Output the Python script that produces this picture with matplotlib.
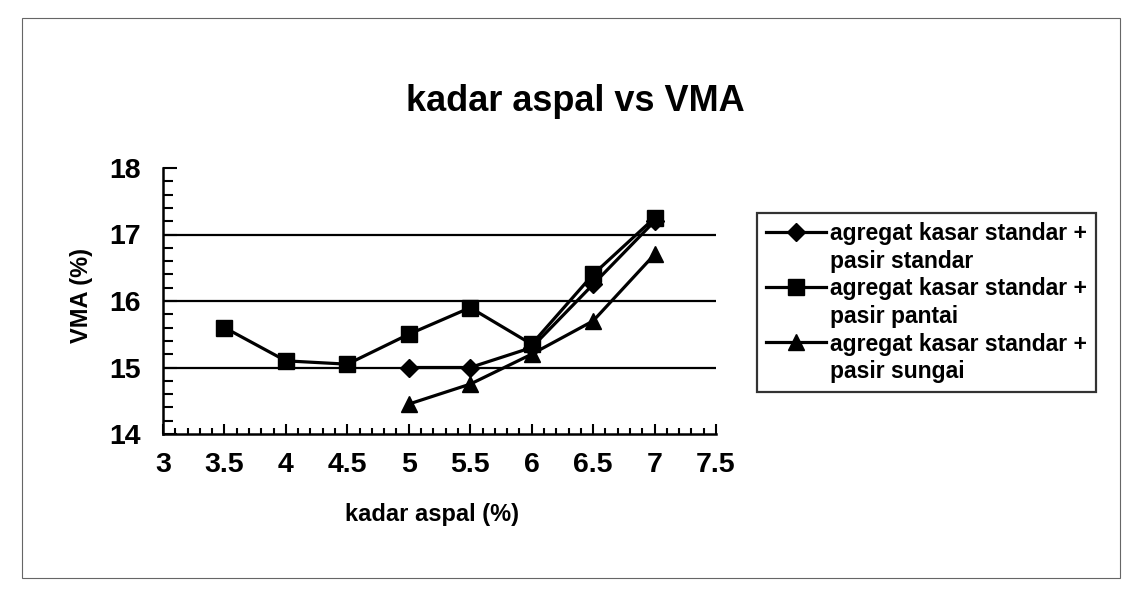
# kadar aspal vs VMA - three sand mixes
import matplotlib
matplotlib.use("Agg")
import matplotlib.pyplot as plt
from matplotlib.lines import Line2D
from matplotlib.patches import Rectangle
from matplotlib.ticker import MultipleLocator

plt.rcParams['font.family'] = ['Liberation Sans', 'DejaVu Sans']
plt.rcParams['font.weight'] = 'bold'

# data
x_pantai = [3.5, 4, 4.5, 5, 5.5, 6, 6.5, 7]
vma_pantai = [15.6, 15.1, 15.05, 15.5, 15.9, 15.35, 16.4, 17.25]
x_std = [5, 5.5, 6, 6.5, 7]
vma_standar = [15.0, 15.0, 15.3, 16.25, 17.2]
vma_sungai = [14.45, 14.75, 15.2, 15.7, 16.7]

labels = ["agregat kasar standar +\npasir standar",
          "agregat kasar standar +\npasir pantai",
          "agregat kasar standar +\npasir sungai"]
grid_levels = [15, 16, 17]

fig = plt.figure(figsize=(11.31, 6.05), dpi=100)
ax = fig.add_axes([163/1131, 1-434/605, 553/1131, 266/605])

for g in grid_levels:
    ax.axhline(g, color='black', lw=1.6, zorder=1)

lw = 2.3
h1, = ax.plot(x_std, vma_standar, color='black', lw=lw, marker='D', ms=9.5, zorder=3)
h2, = ax.plot(x_pantai, vma_pantai, color='black', lw=lw, marker='s', ms=11, zorder=3)
h3, = ax.plot(x_std, vma_sungai, color='black', lw=lw, marker='^', ms=12, zorder=3)

ax.set_xlim(3, 7.5)
ax.set_ylim(14, 18)
ax.xaxis.set_major_locator(MultipleLocator(0.5))
ax.xaxis.set_minor_locator(MultipleLocator(0.1))
ax.yaxis.set_major_locator(MultipleLocator(1))
ax.yaxis.set_minor_locator(MultipleLocator(0.2))
ax.xaxis.set_major_formatter(plt.FuncFormatter(lambda v, p: ('%g' % v)))

for s in ['top', 'right']:
    ax.spines[s].set_visible(False)
for s in ['left', 'bottom']:
    ax.spines[s].set_linewidth(1.8)

ax.tick_params(axis='x', which='major', direction='in', length=7, width=1.5, pad=13, labelsize=20.5)
ax.tick_params(axis='x', which='minor', direction='in', length=4, width=1.5)
ax.tick_params(axis='y', which='major', direction='in', length=10, width=1.5, pad=16, labelsize=20.5)
ax.tick_params(axis='y', which='minor', direction='in', length=7, width=1.5)
for t in ax.get_xticklabels() + ax.get_yticklabels():
    t.set_fontweight('bold')

ax.set_xlabel("kadar aspal (%)", fontsize=17, fontweight='bold')
ax.xaxis.set_label_coords(0.486, -0.26)
ax.set_ylabel("VMA (%)", fontsize=17, fontweight='bold')
ax.yaxis.set_label_coords(-0.127, 0.52)

fig.text(575/1131, 1-101/605, "kadar aspal vs VMA", ha='center', va='center',
         fontsize=26, fontweight='bold')

# legend: handle sits on the first line of each two-line label
blank = Line2D([], [], linestyle='none')
handles, texts = [], []
for h, lab in zip([h1, h2, h3], labels):
    top, bottom = lab.split("\n")
    handles += [h, blank]
    texts += [top, bottom]
leg = fig.legend(handles, texts, loc='upper left', bbox_to_anchor=(757/1131, 1-213/605),
                 borderaxespad=0, fancybox=False, frameon=True, edgecolor='black',
                 labelspacing=0.2, handlelength=2.6, handletextpad=0.2,
                 borderpad=0.4, numpoints=1, prop={'weight': 'bold', 'size': 16.5})
leg.get_frame().set_linewidth(1.6)

# thin outer border of the chart area
fig.patches.append(Rectangle((22/1131, 1-578/605), 1098/1131, 560/605, transform=fig.transFigure,
                             fill=False, edgecolor='#666666', lw=0.8))

fig.savefig("out.png", dpi=100)
